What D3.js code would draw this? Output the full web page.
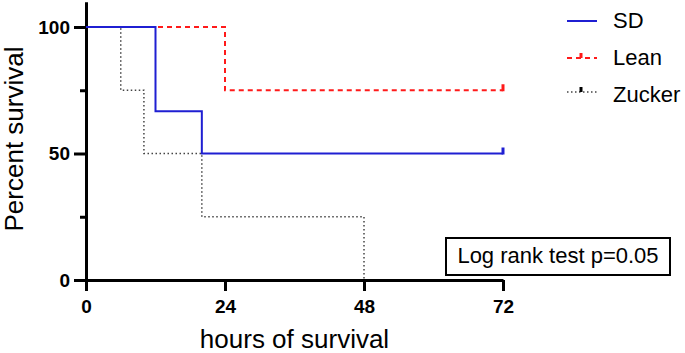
<!DOCTYPE html>
<html>
<head>
<meta charset="utf-8">
<script src="https://cdn.jsdelivr.net/npm/d3@7"></script>
<style>
  body { margin: 0; background: #fff; }
  svg { font-family: "Liberation Sans", Arial, sans-serif; }
</style>
</head>
<body>
<div id="chart"></div>
<script>
// survival data (hours, percent)
var sdTimes = [0, 12, 20, 72];
var sdSurv = [100, 66.7, 50, 50];
var leanTimes = [0, 24, 72];
var leanSurv = [100, 75, 75];
var zuckerTimes = [0, 6, 10, 20, 48];
var zuckerSurv = [100, 75, 50, 25, 0];
var censorTimes = {SD: 72, Lean: 72};

var xTicks = [0, 24, 48, 72];
var yTicks = [0, 50, 100];
var yMinor = [25, 75];
var groups = ["SD", "Lean", "Zucker"];

var W = 685, H = 353;

const svg = d3.select("#chart")
  .append("svg")
    .attr("width", W)
    .attr("height", H);

const x = d3.scaleLinear().domain([0, 72]).range([86, 503]);
const y = d3.scaleLinear().domain([0, 110]).range([280, 1.7]);

// y axis
const yAxis = svg.append("g")
  .attr("transform", "translate(86,0)")
  .call(d3.axisLeft(y).tickValues(yTicks).tickSize(12).tickSizeOuter(0).tickPadding(4));
yAxis.select(".domain").attr("stroke-width", 3);
yAxis.selectAll(".tick line").attr("stroke-width", 3);
yAxis.selectAll(".tick text")
  .attr("font-size", 19).attr("font-weight", "bold").attr("fill", "#000")
  .attr("font-family", "Liberation Sans, Arial, sans-serif");

svg.append("g")
  .attr("transform", "translate(86,0)")
  .call(d3.axisLeft(y).tickValues(yMinor).tickSize(6).tickFormat(""))
  .call(g => g.select(".domain").remove())
  .selectAll(".tick line").attr("stroke-width", 3);

// x axis
const xAxis = svg.append("g")
  .attr("transform", "translate(0,280)")
  .call(d3.axisBottom(x).tickValues(xTicks).tickSize(11).tickSizeOuter(0).tickPadding(9));
xAxis.select(".domain").attr("stroke-width", 3);
xAxis.selectAll(".tick line").attr("stroke-width", 3);
xAxis.selectAll(".tick text")
  .attr("font-size", 19).attr("font-weight", "bold").attr("fill", "#000")
  .attr("font-family", "Liberation Sans, Arial, sans-serif");

// axis titles
svg.append("text")
  .attr("x", (x(0) + x(72)) / 2)
  .attr("y", 348)
  .attr("text-anchor", "middle")
  .attr("font-size", 26)
  .text("hours of survival");

svg.append("text")
  .attr("transform", "translate(23,139) rotate(-90)")
  .attr("text-anchor", "middle")
  .attr("font-size", 26)
  .text("Percent survival");

// step curves
const line = d3.line()
  .x(d => x(d[0]))
  .y(d => y(d[1]))
  .curve(d3.curveStepAfter);

var series = [
  {name: "SD", pts: d3.zip(sdTimes, sdSurv), color: "#1f1fd2", width: 2, dash: null},
  {name: "Lean", pts: d3.zip(leanTimes, leanSurv), color: "#ff1a1a", width: 2, dash: "5,4"},
  {name: "Zucker", pts: d3.zip(zuckerTimes, zuckerSurv), color: "#444", width: 1.5, dash: "1.5,2.5"}
];

// draw Zucker first so SD stays on top
[series[2], series[1], series[0]].forEach(function(s){
  svg.append("path")
    .attr("d", line(s.pts))
    .attr("fill", "none")
    .attr("stroke", s.color)
    .attr("stroke-width", s.width)
    .attr("stroke-dasharray", s.dash);
});

// censor marks
series.forEach(function(s){
  if (censorTimes[s.name] === undefined) return;
  var last = s.pts[s.pts.length - 1];
  svg.append("line")
    .attr("x1", x(censorTimes[s.name])).attr("x2", x(censorTimes[s.name]))
    .attr("y1", y(last[1]) + 1).attr("y2", y(last[1]) - 6)
    .attr("stroke", s.color)
    .attr("stroke-width", 3);
});

// legend
var legendY = [21, 58, 92];
var legendTextY = [28, 65, 102];
series.forEach(function(s, i){
  svg.append("line")
    .attr("x1", 567).attr("x2", 597)
    .attr("y1", legendY[i]).attr("y2", legendY[i])
    .attr("stroke", s.color)
    .attr("stroke-width", s.width)
    .attr("stroke-dasharray", s.dash);
  if (s.name !== "SD") {
    svg.append("line")
      .attr("x1", 581).attr("x2", 581)
      .attr("y1", legendY[i]).attr("y2", legendY[i] - 5)
      .attr("stroke", s.name === "Lean" ? s.color : "#000")
      .attr("stroke-width", 3);
  }
  svg.append("text")
    .attr("x", 613)
    .attr("y", legendTextY[i])
    .attr("font-size", 22)
    .text(groups[i]);
});

// log rank box
svg.append("rect")
  .attr("x", 446).attr("y", 238)
  .attr("width", 224).attr("height", 37)
  .attr("fill", "#fff")
  .attr("stroke", "#000")
  .attr("stroke-width", 2);
svg.append("text")
  .attr("x", 558).attr("y", 263)
  .attr("text-anchor", "middle")
  .attr("font-size", 22)
  .text("Log rank test p=0.05");
</script>
</body>
</html>
